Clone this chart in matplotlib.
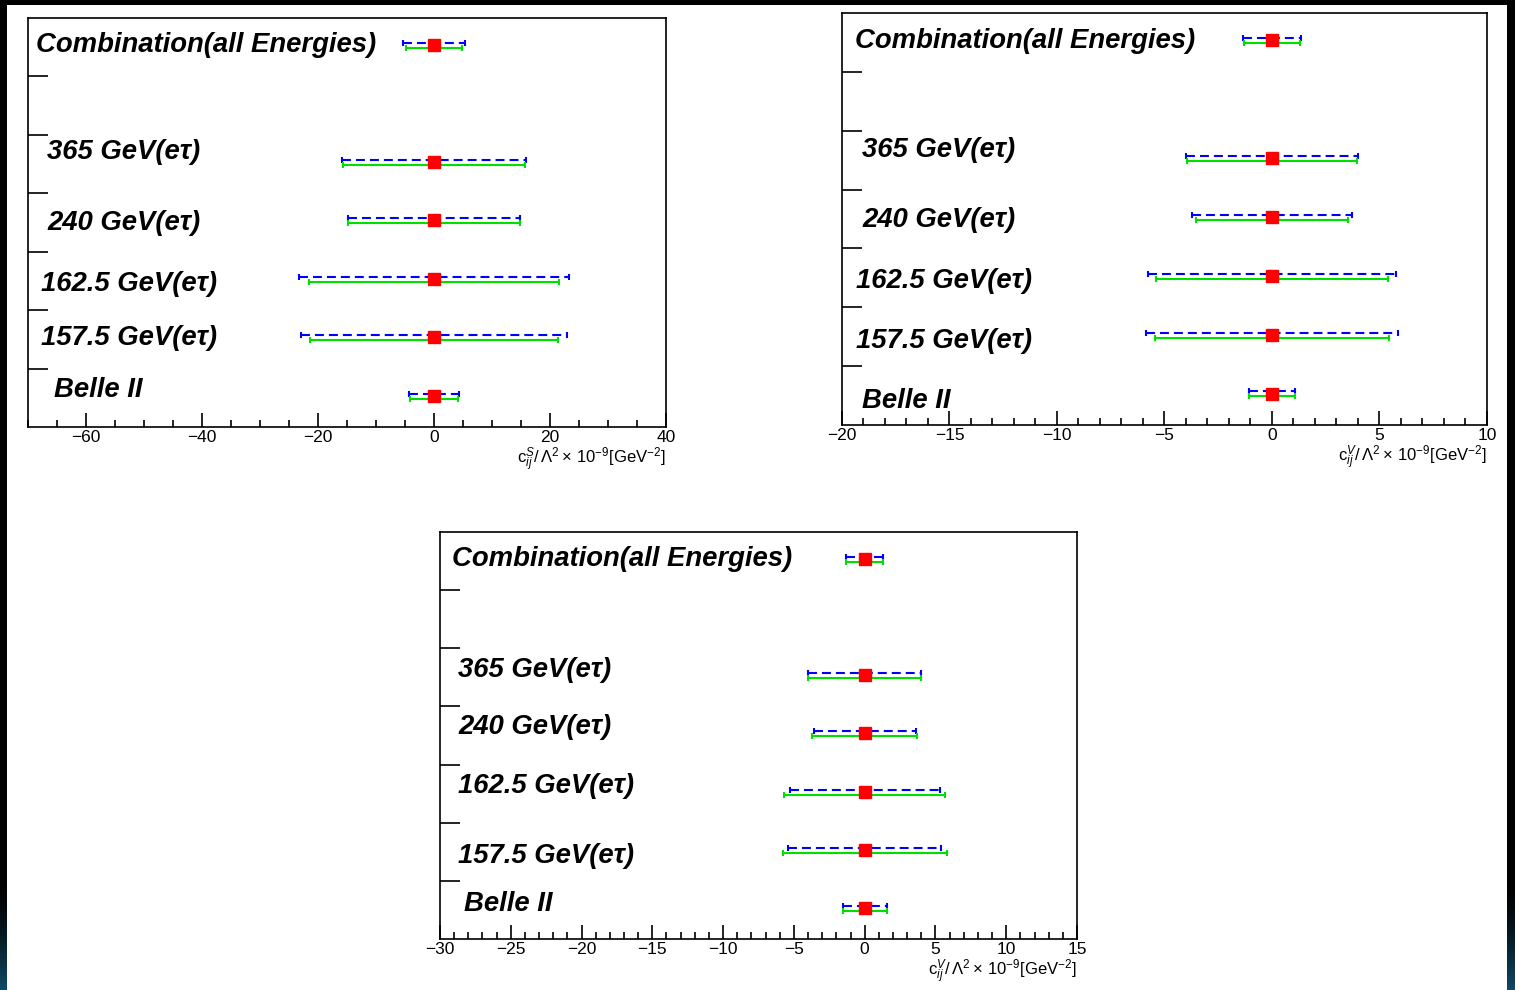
import numpy as np
import matplotlib
matplotlib.use('Agg')
import matplotlib.pyplot as plt
from matplotlib.patches import Rectangle
from matplotlib.colors import LinearSegmentedColormap

plt.rcParams['font.family'] = ['Liberation Sans', 'DejaVu Sans']
plt.rcParams['mathtext.fontset'] = 'custom'
plt.rcParams['mathtext.rm'] = 'Liberation Sans'
plt.rcParams['mathtext.it'] = 'Liberation Sans:italic'

# rows from bottom to top (slot 5 is empty)
labels = ['Belle II', '157.5 GeV(e\u03c4)', '162.5 GeV(e\u03c4)', '240 GeV(e\u03c4)',
          '365 GeV(e\u03c4)', 'Combination(all Energies)']
rows = [0.5, 1.5, 2.5, 3.5, 4.5, 6.5]
centre = [0, 0, 0, 0, 0, 0]

# half widths of intervals
scalar_blue = [4.3, 22.9, 23.2, 14.9, 15.8, 5.3]
scalar_green = [4.2, 21.3, 21.6, 14.9, 15.7, 4.9]
vec1_blue = [1.05, 5.85, 5.75, 3.7, 4.0, 1.35]
vec1_green = [1.05, 5.45, 5.4, 3.55, 3.95, 1.3]
vec2_blue = [1.55, 5.4, 5.3, 3.6, 4.0, 1.3]
vec2_green = [1.55, 5.8, 5.7, 3.7, 4.0, 1.3]

fig = plt.figure(figsize=(15.15, 9.9), dpi=100)
fig.patch.set_facecolor('black')
fig.patches.append(Rectangle((7/1515, 0), 1500/1515, 985/990, transform=fig.transFigure,
                             facecolor='white', edgecolor='none', zorder=-10))

# dark blue glow at the bottom of the side strips
glow = LinearSegmentedColormap.from_list('glow', ['black', '#0e4a66'])
for x0, w in [(0, 7), (1507, 8)]:
    gax = fig.add_axes([x0/1515, 0, w/1515, 110/990])
    gax.imshow(np.linspace(0, 1, 50)[:, None] ** 1.5, cmap=glow, aspect='auto',
               origin='upper')
    gax.axis('off')


def panel(rect, xlim, major, minor, blue, green, xlab, lab_x, lab_y):
    ax = fig.add_axes(rect)
    ax.set_facecolor('none')
    y = np.array(rows) + 0.035
    eb = ax.errorbar(centre, y + 0.035, xerr=blue, fmt='none', ecolor='blue',
                     elinewidth=1.5, capsize=2.5, capthick=1.5)
    eb.lines[2][0].set_linestyle((0, (4.3, 2.4)))
    ax.errorbar(centre, y - 0.05, xerr=green, fmt='none', ecolor='#00e000',
                elinewidth=1.5, capsize=2.5, capthick=1.5)
    ax.plot(centre, y, 's', color='red', ms=8, mec='red', zorder=5)

    for t, lx, ly in zip(labels, lab_x, lab_y):
        ax.text(lx, ly, t, transform=ax.get_yaxis_transform(), fontsize=19.8,
                fontweight='bold', fontstyle='italic', va='center', ha='left')

    ax.set_xticks(np.arange(np.ceil(xlim[0] / major) * major, xlim[1] + 0.01, major))
    ax.set_xticks(np.arange(np.ceil(xlim[0] / minor) * minor, xlim[1] + 0.01, minor),
                  minor=True)
    ax.set_xlim(*xlim)
    ax.set_ylim(0, 7)
    ax.set_yticks(range(1, 7))
    ax.set_yticklabels([])
    ax.tick_params(axis='x', which='major', direction='in', length=10, width=1.2,
                   labelsize=12.5, pad=2)
    ax.tick_params(axis='x', which='minor', direction='in', length=5, width=1.2)
    ax.tick_params(axis='y', which='major', direction='in', length=14.5, width=1.2)
    for s in ax.spines.values():
        s.set_linewidth(1.2)
    ax.text(1.0, -0.08, xlab, transform=ax.transAxes, ha='right', va='center',
            fontsize=12)
    return ax


panel([28/1515, 1-427/990, 638/1515, 409/990], (-70, 40), 20, 5,
      scalar_blue, scalar_green,
      r'$\mathrm{c}_{ij}^{S}/\,\Lambda^{2}\times\,10^{-9}$[GeV$^{-2}$]',
      [0.04, 0.02, 0.02, 0.03, 0.03, 0.013], [0.64, 1.53, 2.44, 3.5, 4.7, 6.53])

panel([842/1515, 1-425/990, 645/1515, 412/990], (-20, 10), 5, 1,
      vec1_blue, vec1_green,
      r'$\mathrm{c}_{ij}^{V}/\,\Lambda^{2}\times\,10^{-9}$[GeV$^{-2}$]',
      [0.031, 0.022, 0.022, 0.031, 0.031, 0.02], [0.4, 1.435, 2.455, 3.49, 4.68, 6.53])

panel([440/1515, 1-939/990, 637/1515, 407/990], (-30, 15), 5, 1,
      vec2_blue, vec2_green,
      r'$\mathrm{c}_{ij}^{V}/\,\Lambda^{2}\times\,10^{-9}$[GeV$^{-2}$]',
      [0.038, 0.029, 0.029, 0.029, 0.029, 0.019], [0.61, 1.42, 2.64, 3.64, 4.62, 6.53])

fig.savefig('out.png', dpi=100, facecolor=fig.get_facecolor())
